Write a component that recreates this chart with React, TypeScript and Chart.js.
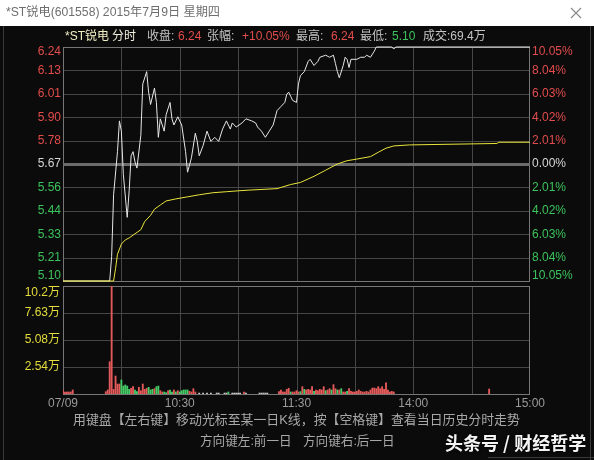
import React, { useEffect, useRef } from "react";
import { Chart, registerables } from "chart.js";
Chart.register(...registerables);

// ---- data ----
const priceMinutes = [0, 24, 25, 26, 28, 29, 30, 31, 33, 34, 35, 36, 37, 38, 40, 41, 43, 44, 45, 47, 48, 49, 50, 52, 53, 55, 56, 57, 59, 61, 63, 64, 66, 68, 69, 70, 72, 74, 76, 78, 80, 82, 84, 86, 87, 89, 92, 94, 97, 99, 100, 102, 104, 106, 108, 110, 112, 114, 115, 116, 117, 118, 120, 121, 122, 124, 126, 127, 129, 131, 132, 135, 137, 139, 140, 141, 142, 144, 145, 146, 147, 148, 151, 153, 155, 156, 158, 160, 161, 169, 170, 171, 240];
const prices = [5.10, 5.10, 5.22, 5.52, 5.73, 5.88, 5.83, 5.62, 5.41, 5.54, 5.71, 5.73, 5.68, 5.65, 5.81, 6.06, 6.12, 6.02, 5.96, 6.04, 5.97, 5.80, 5.89, 5.83, 5.91, 5.97, 5.89, 5.86, 5.90, 5.86, 5.73, 5.63, 5.70, 5.82, 5.78, 5.71, 5.76, 5.83, 5.78, 5.80, 5.78, 5.84, 5.88, 5.84, 5.87, 5.85, 5.87, 5.89, 5.88, 5.87, 5.85, 5.83, 5.80, 5.83, 5.86, 5.93, 5.95, 5.97, 6.01, 6.02, 6.00, 5.98, 5.97, 6.06, 6.10, 6.12, 6.17, 6.18, 6.15, 6.17, 6.19, 6.20, 6.19, 6.20, 6.16, 6.12, 6.09, 6.15, 6.19, 6.18, 6.14, 6.18, 6.18, 6.19, 6.19, 6.20, 6.19, 6.22, 6.24, 6.24, 6.23, 6.24, 6.24];

const avgMinutes = [0, 26, 27, 28, 30, 32, 34, 37, 40, 42, 45, 47, 50, 53, 58, 64, 70, 77, 84, 91, 96, 110, 117, 122, 129, 135, 141, 146, 151, 158, 162, 166, 170, 178, 223, 224, 240];
const avgPrices = [5.10, 5.10, 5.16, 5.23, 5.28, 5.30, 5.31, 5.33, 5.35, 5.39, 5.42, 5.45, 5.47, 5.49, 5.50, 5.51, 5.52, 5.53, 5.535, 5.54, 5.543, 5.55, 5.57, 5.58, 5.61, 5.64, 5.67, 5.686, 5.694, 5.706, 5.727, 5.747, 5.758, 5.763, 5.77, 5.776, 5.776];

const volMinutes = [0, 1, 2, 3, 4, 5, 22, 23, 24, 25, 26, 27, 28, 29, 30, 31, 32, 33, 34, 35, 36, 37, 38, 39, 40, 41, 42, 43, 44, 45, 46, 47, 48, 49, 50, 51, 52, 53, 54, 55, 56, 57, 58, 59, 60, 61, 62, 63, 64, 65, 66, 67, 68, 70, 72, 74, 76, 79, 80, 83, 84, 85, 87, 88, 89, 90, 91, 93, 94, 101, 102, 103, 104, 105, 111, 112, 113, 114, 115, 116, 117, 118, 119, 120, 121, 122, 123, 124, 125, 126, 127, 128, 129, 130, 131, 132, 133, 134, 135, 136, 137, 138, 139, 140, 141, 142, 143, 144, 145, 146, 147, 148, 149, 150, 151, 152, 153, 154, 155, 156, 157, 158, 159, 160, 161, 162, 163, 164, 165, 166, 167, 168, 169, 170, 219];
const volValues = [0.38, 0.19, 0.19, 0.19, 0.19, 0.38, 0.22, 0.38, 3.04, 10.16, 0.44, 1.69, 0.94, 0.94, 1.32, 0.75, 0.85, 0.75, 0.44, 0.54, 0.69, 0.38, 0.22, 0.63, 0.31, 0.94, 0.44, 0.54, 0.63, 0.38, 0.44, 0.50, 0.69, 0.75, 0.31, 0.19, 0.19, 0.13, 0.31, 0.38, 0.19, 0.38, 0.19, 0.31, 0.19, 0.31, 0.38, 0.38, 0.38, 0.25, 0.19, 0.50, 0.19, 0.09, 0.09, 0.09, 0.09, 0.09, 0.09, 0.09, 0.09, 0.19, 0.09, 0.09, 0.09, 0.09, 0.09, 0.19, 0.09, 0.09, 0.09, 0.09, 0.09, 0.09, 0.22, 0.38, 0.19, 0.19, 0.44, 0.54, 0.19, 0.19, 0.19, 0.31, 0.19, 0.22, 0.69, 0.44, 0.38, 0.44, 0.38, 0.69, 0.25, 0.38, 0.31, 0.44, 0.38, 0.69, 0.31, 0.38, 0.50, 0.38, 0.88, 0.50, 0.38, 0.38, 0.50, 0.19, 0.19, 0.25, 0.50, 0.25, 0.19, 0.19, 0.25, 0.38, 0.25, 0.19, 0.19, 0.25, 0.19, 0.38, 0.56, 0.56, 0.50, 0.69, 0.50, 0.69, 0.44, 1.06, 0.38, 0.19, 0.25, 0.19, 0.47];
const volDirs = ["u", "u", "u", "u", "u", "u", "u", "u", "u", "u", "u", "u", "u", "u", "d", "d", "d", "d", "d", "u", "u", "d", "d", "u", "u", "u", "u", "u", "d", "d", "d", "u", "d", "d", "u", "u", "d", "d", "u", "d", "d", "u", "d", "u", "d", "d", "d", "d", "d", "u", "u", "u", "u", "n", "n", "n", "n", "n", "n", "n", "n", "d", "n", "n", "n", "n", "n", "u", "n", "n", "n", "n", "n", "n", "u", "u", "u", "u", "u", "u", "d", "u", "u", "u", "u", "d", "u", "d", "u", "u", "u", "u", "d", "u", "u", "u", "u", "u", "d", "u", "u", "d", "u", "u", "d", "u", "d", "u", "u", "d", "u", "u", "u", "u", "u", "u", "u", "u", "u", "u", "u", "u", "u", "u", "u", "u", "u", "u", "u", "u", "u", "u", "u", "u", "u"];

const priceTickLabels = ["6.24", "6.13", "6.01", "5.90", "5.78", "5.67", "5.56", "5.44", "5.33", "5.21", "5.10"];
const pctTickLabels = ["10.05%", "8.04%", "6.03%", "4.02%", "2.01%", "0.00%", "2.01%", "4.02%", "6.03%", "8.04%", "10.05%"];
const volTickValues = [10.16, 7.63, 5.08, 2.54];
const volTickLabels = ["10.2万", "7.63万", "5.08万", "2.54万"];
const timeLabelMinutes = [0, 60, 120, 180, 240];
const timeLabels = ["07/09", "10:30", "11:30", "14:00", "15:00"];
const PRICE_MIN = 5.1;
const PRICE_MAX = 6.24;
const PREV_CLOSE = 5.67;
const VOL_MAX = 10.16;

// ---- styles ----
const BG = "#0b0b0b";
const GRID = "#464646";
const BORDER = "#767676";
const RED = "#e24c4c";
const GREEN = "#3cc35c";
const YELLOW = "#e4dc3c";
const NUM = '"Liberation Sans", Arial, "Noto Sans CJK SC", sans-serif';
const CJK = '"Liberation Sans", "Noto Sans CJK SC", sans-serif';

function hline(ctx: CanvasRenderingContext2D, x1: number, x2: number, y: number) {
  ctx.beginPath();
  ctx.moveTo(x1, y);
  ctx.lineTo(x2, y);
  ctx.stroke();
}
function vline(ctx: CanvasRenderingContext2D, x: number, y1: number, y2: number) {
  ctx.beginPath();
  ctx.moveTo(x, y1);
  ctx.lineTo(x, y2);
  ctx.stroke();
}

const pricePlugin = {
  id: "priceDecor",
  beforeDatasetsDraw(chart: any) {
    const { ctx, chartArea: a, scales } = chart;
    const x = scales.x;
    const y = scales.y;
    ctx.save();
    ctx.fillStyle = BG;
    ctx.fillRect(0, 26, chart.width, chart.height - 26);
    // title bar
    ctx.fillStyle = "#ffffff";
    ctx.fillRect(0, 0, chart.width, 26);
    ctx.strokeStyle = GRID;
    ctx.lineWidth = 1;
    const step = (PRICE_MAX - PRICE_MIN) / 10;
    for (let i = 1; i < 10; i++) {
      if (i === 5) continue;
      const py = Math.round(y.getPixelForValue(PRICE_MAX - i * step)) + 0.5;
      hline(ctx, a.left, a.right, py);
    }
    for (let m = 30; m < 240; m += 30) {
      const px = Math.round(x.getPixelForValue(m)) + 0.5;
      vline(ctx, px, a.top, a.bottom);
    }
    ctx.strokeStyle = BORDER;
    ctx.strokeRect(a.left + 0.5, a.top + 0.5, a.right - a.left - 1, a.bottom - a.top);
    ctx.fillStyle = "#6c6c6c";
    const pc = Math.round(y.getPixelForValue(PREV_CLOSE));
    ctx.fillRect(a.left, pc - 1, a.right - a.left, 3);
    // window edges
    ctx.strokeStyle = "#3a3a3a";
    vline(ctx, 3.5, 26, 460);
    vline(ctx, 590.5, 26, 460);
    hline(ctx, 488, 594, 457.5);
    ctx.restore();
  },
  afterDraw(chart: any) {
    const { ctx, chartArea: a, scales } = chart;
    const y = scales.y;
    ctx.save();
    ctx.textBaseline = "middle";
    // title bar text
    ctx.font = `12.2px ${CJK}`;
    ctx.fillStyle = "#6e6e6e";
    ctx.textAlign = "left";
    ctx.fillText("*ST锐电(601558) 2015年7月9日 星期四", 6, 13);
    ctx.strokeStyle = "#8a8a8a";
    ctx.lineWidth = 1.2;
    ctx.beginPath();
    ctx.moveTo(571, 8);
    ctx.lineTo(581, 18);
    ctx.moveTo(581, 8);
    ctx.lineTo(571, 18);
    ctx.stroke();
    // header
    ctx.font = `12px ${CJK}`;
    const seg: [string, number, string][] = [
      ["*ST锐电", 65, "#f0f0c4"],
      ["分时", 112, "#f0f0e0"],
      ["收盘:", 147, "#c4c4c4"],
      ["6.24", 178, RED],
      ["张幅:", 207, "#c4c4c4"],
      ["+10.05%", 242, RED],
      ["最高:", 296, "#c4c4c4"],
      ["6.24", 331, RED],
      ["最低:", 360, "#c4c4c4"],
      ["5.10", 392, GREEN],
      ["成交:69.4万", 423, "#c4c4c4"],
    ];
    seg.forEach(([t, px, c]) => {
      ctx.fillStyle = c;
      ctx.fillText(t, px, 37);
    });
    // price axis labels
    ctx.font = `12px ${NUM}`;
    const step = (PRICE_MAX - PRICE_MIN) / 10;
    for (let i = 0; i <= 10; i++) {
      let py = y.getPixelForValue(PRICE_MAX - i * step);
      if (i === 0) py += 5;
      if (i === 10) py -= 5;
      const c = i < 5 ? RED : i === 5 ? "#d6d6d6" : GREEN;
      ctx.fillStyle = c;
      ctx.textAlign = "right";
      ctx.fillText(priceTickLabels[i], a.left - 2, py);
      ctx.textAlign = "left";
      ctx.fillText(pctTickLabels[i], a.right + 2, py);
    }
    // bottom texts
    ctx.fillStyle = "#a8a8a8";
    ctx.textAlign = "left";
    ctx.font = `12.9px ${CJK}`;
    ctx.fillText("用键盘【左右键】移动光标至某一日K线，按【空格键】查看当日历史分时走势", 73, 420);
    ctx.font = `12.6px ${CJK}`;
    ctx.fillText("方向键左:前一日", 200, 442);
    ctx.fillText("方向键右:后一日", 303, 442);
    // watermark
    ctx.font = `bold 18px "Noto Sans CJK SC", sans-serif`;
    ctx.shadowColor = "rgba(0,0,0,0.9)";
    ctx.shadowBlur = 3;
    ctx.fillStyle = "#f4f4f4";
    ctx.fillText("头条号 / 财经哲学", 445, 443);
    ctx.restore();
  },
};

const volPlugin = {
  id: "volDecor",
  beforeDatasetsDraw(chart: any) {
    const { ctx, chartArea: a, scales } = chart;
    const x = scales.x;
    const y = scales.y;
    ctx.save();
    ctx.strokeStyle = GRID;
    ctx.lineWidth = 1;
    for (let i = 1; i < volTickValues.length; i++) {
      const py = Math.round(y.getPixelForValue(volTickValues[i])) + 0.5;
      hline(ctx, a.left, a.right, py);
    }
    for (let m = 30; m < 240; m += 30) {
      const px = Math.round(x.getPixelForValue(m)) + 0.5;
      vline(ctx, px, a.top, a.bottom);
    }
    ctx.strokeStyle = BORDER;
    ctx.strokeRect(a.left + 0.5, a.top + 0.5, a.right - a.left - 1, a.bottom - a.top);
    ctx.restore();
  },
  afterDraw(chart: any) {
    const { ctx, chartArea: a, scales } = chart;
    const x = scales.x;
    const y = scales.y;
    ctx.save();
    ctx.textBaseline = "middle";
    ctx.font = `12px ${CJK}`;
    ctx.fillStyle = YELLOW;
    ctx.textAlign = "right";
    volTickValues.forEach((v, i) => {
      let py = y.getPixelForValue(v);
      if (i === 0) py += 7;
      ctx.fillText(volTickLabels[i], a.left - 3, py);
    });
    ctx.font = `12px ${NUM}`;
    ctx.fillStyle = "#9a9a9a";
    ctx.textAlign = "center";
    timeLabelMinutes.forEach((m, i) => {
      ctx.fillText(timeLabels[i], x.getPixelForValue(m), 404);
    });
    ctx.restore();
  },
};

export default function App() {
  const priceRef = useRef<HTMLCanvasElement>(null);
  const volRef = useRef<HTMLCanvasElement>(null);

  useEffect(() => {
    const common = {
      responsive: false,
      animation: false as const,
      events: [] as any[],
      plugins: { legend: { display: false }, tooltip: { enabled: false } },
    };
    const priceChart = new Chart(priceRef.current!, {
      type: "line",
      data: {
        datasets: [
          {
            data: avgMinutes.map((m, i) => ({ x: m, y: avgPrices[i] })),
            borderColor: "#e8e43a",
            borderWidth: 1,
            pointRadius: 0,
            tension: 0,
            clip: 3,
          },
          {
            data: priceMinutes.map((m, i) => ({ x: m, y: prices[i] })),
            borderColor: "#e6e6e6",
            borderWidth: 1,
            pointRadius: 0,
            tension: 0,
            clip: 3,
          },
        ],
      },
      options: {
        ...common,
        layout: { padding: { left: 63, right: 64, top: 47, bottom: 179 } },
        scales: {
          x: { type: "linear", min: 0, max: 240, display: false },
          y: { type: "linear", min: PRICE_MIN, max: PRICE_MAX, display: false },
        },
      },
      plugins: [pricePlugin],
    } as any);

    const volChart = new Chart(volRef.current!, {
      type: "bar",
      data: {
        datasets: [
          {
            data: volMinutes.map((m, i) => ({ x: m, y: volValues[i] })),
            backgroundColor: volDirs.map((d) => (d === "u" ? "#e45a5a" : d === "d" ? "#46cc66" : "#c8c8c8")),
            barThickness: 1.2,
            borderWidth: 0,
          },
        ],
      },
      options: {
        ...common,
        layout: { padding: { left: 63, right: 64, top: 286, bottom: 66 } },
        scales: {
          x: { type: "linear", min: 0, max: 240, display: false, offset: false },
          y: { type: "linear", min: 0, max: VOL_MAX, display: false },
        },
      },
      plugins: [volPlugin],
    } as any);

    return () => {
      priceChart.destroy();
      volChart.destroy();
    };
  }, []);

  return (
    <div
      style={{
        position: "fixed",
        left: 0,
        top: 0,
        width: 594,
        height: 460,
        background: BG,
        overflow: "hidden",
      }}
    >
      <canvas ref={priceRef} width={594} height={460} style={{ position: "absolute", left: 0, top: 0 }} />
      <canvas ref={volRef} width={594} height={460} style={{ position: "absolute", left: 0, top: 0 }} />
    </div>
  );
}
